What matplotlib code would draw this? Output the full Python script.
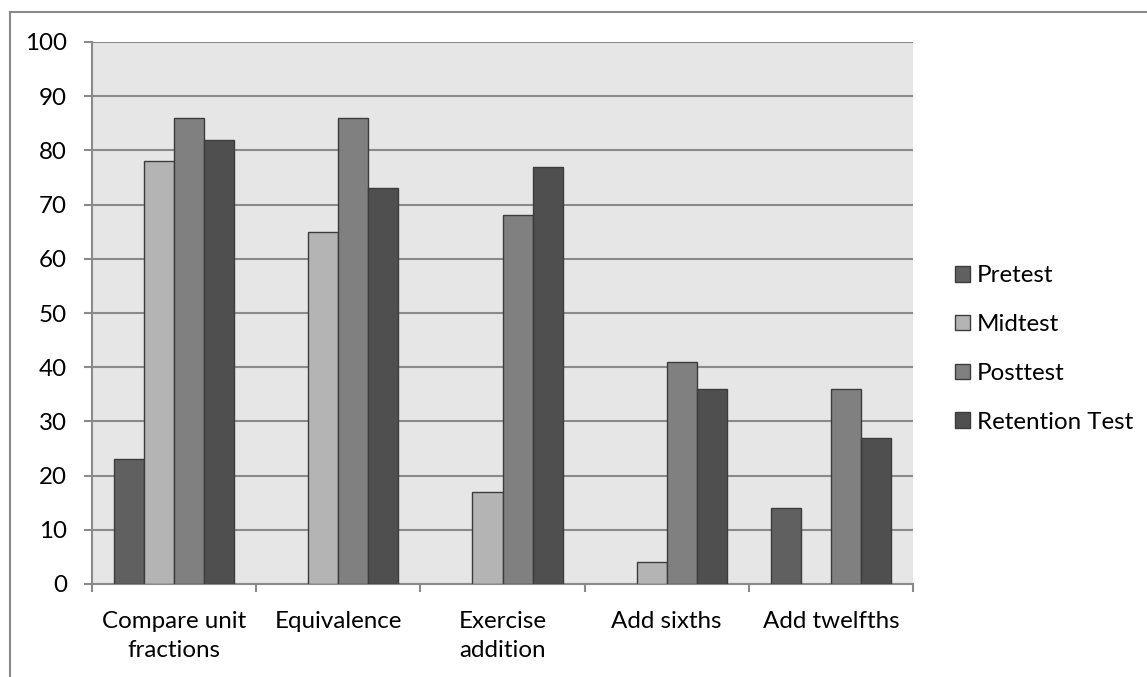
import matplotlib
matplotlib.use("Agg")
import matplotlib.pyplot as plt
import numpy as np
from matplotlib.lines import Line2D

categories = ["Compare unit\nfractions", "Equivalence", "Exercise\naddition", "Add sixths", "Add twelfths"]
series_names = ["Pretest", "Midtest", "Posttest", "Retention Test"]
pretest = [23, 0, 0, 0, 14]
midtest = [78, 65, 17, 4, 0]
posttest = [86, 86, 68, 41, 36]
retention = [82, 73, 77, 36, 27]
y_ticks = [0, 10, 20, 30, 40, 50, 60, 70, 80, 90, 100]

colors = ["#606060", "#b4b4b4", "#808080", "#4f4f4f"]
edge = "#3c3c3c"
FS = 17.4
PX = 72 / 100  # points per pixel

plt.rcParams['font.family'] = ['Lato', 'DejaVu Sans']

fig = plt.figure(figsize=(11.47, 6.77), dpi=100)
ax = fig.add_axes([92/1147, 1-584/677, 821/1147, 542/677])
ax.set_facecolor("#e6e6e6")

x = np.arange(len(categories))
bw = 0.183
data = [pretest, midtest, posttest, retention]
for i, (vals, name, c) in enumerate(zip(data, series_names, colors)):
    offs = (i - 1.5) * bw
    bars = ax.bar(x + offs, vals, width=bw, color=c, edgecolor=edge, linewidth=1.0, label=name, zorder=3)
    for b, v in zip(bars, vals):
        if v == 0:
            b.set_linewidth(0)

ax.set_xlim(-0.5, len(categories) - 0.5)
ax.set_ylim(0, 100)
ax.set_yticks(y_ticks)
ax.set_yticklabels([str(t) for t in y_ticks], fontsize=FS)
ax.yaxis.grid(True, color="#8a8a8a", linewidth=1.5, zorder=0)
ax.set_axisbelow(True)

ax.set_xticks(x)
ax.set_xticklabels(categories, fontsize=FS, linespacing=1.45)
ax.tick_params(axis='x', length=0, pad=19.5)
ax.set_xticks(np.arange(-0.5, len(categories), 1.0), minor=True)
ax.tick_params(axis='x', which='minor', length=8 * PX, color="#8a8a8a", width=1.5)
ax.tick_params(axis='y', length=8 * PX, color="#8a8a8a", width=1.5, pad=17 * PX)

for s in ["top", "right"]:
    ax.spines[s].set_visible(False)
for s in ["left", "bottom"]:
    ax.spines[s].set_color("#8a8a8a")
    ax.spines[s].set_linewidth(1.5)

leg = fig.legend(loc="center left", bbox_to_anchor=(933/1147, 1-349/677), frameon=False,
                 fontsize=FS, handlelength=0.62, handleheight=0.62, handletextpad=0.3,
                 labelspacing=1.15)

fig.add_artist(Line2D([10/1147, 10/1147], [0, 1-12/677], transform=fig.transFigure, color="#8a8a8a", linewidth=1.5))
fig.add_artist(Line2D([10/1147, 1], [1-12/677, 1-12/677], transform=fig.transFigure, color="#8a8a8a", linewidth=1.5))

fig.savefig("out.png", dpi=100)
